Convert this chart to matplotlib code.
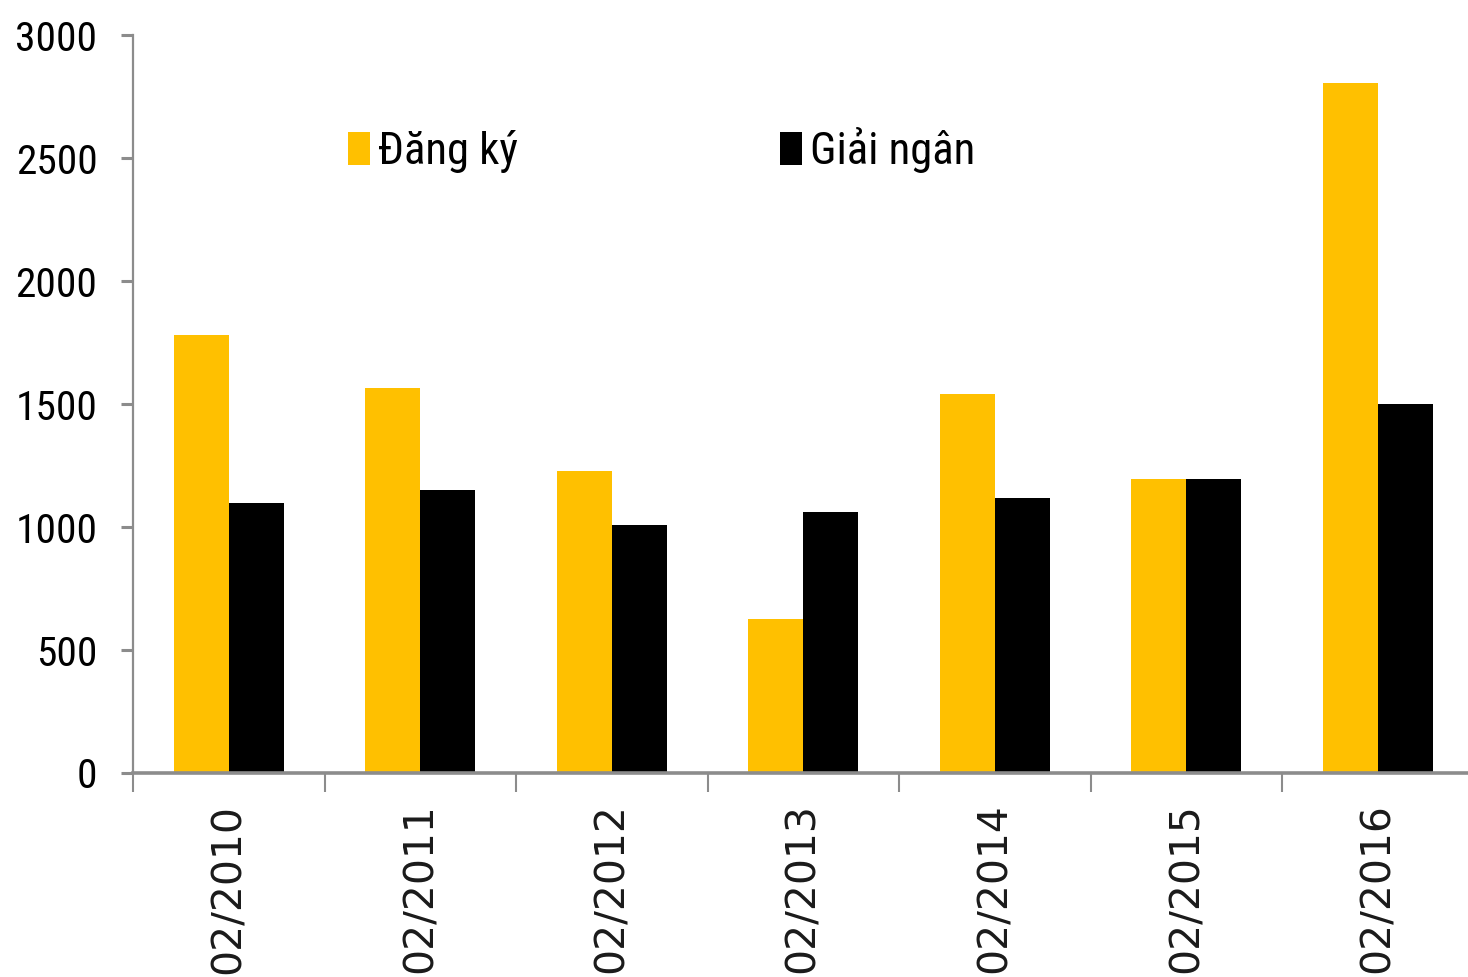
import matplotlib
matplotlib.use('Agg')
import matplotlib.pyplot as plt
from matplotlib import font_manager as fm
from matplotlib.patches import Patch
import numpy as np

# ---- data ----
categories = ['02/2010', '02/2011', '02/2012', '02/2013', '02/2014', '02/2015', '02/2016']
dang_ky = [1780, 1565, 1230, 625, 1540, 1195, 2805]
giai_ngan = [1100, 1150, 1010, 1060, 1120, 1195, 1500]
series_names = ['Đăng ký', 'Giải ngân']
series_colors = ['#FFC000', '#000000']
yticks = [0, 500, 1000, 1500, 2000, 2500, 3000]

W, H, DPI = 1468, 977, 100
fig = plt.figure(figsize=(W / DPI, H / DPI), dpi=DPI)
renderer = fig.canvas.get_renderer()

# pick a narrow font if one is installed
names = {f.name for f in fm.fontManager.ttflist}
narrow = 'DejaVu Sans'
for cand in ['Liberation Sans Narrow', 'Arial Narrow', 'DejaVu Sans Condensed',
             'Roboto Condensed', 'Open Sans Condensed', 'Noto Sans Condensed']:
    if cand in names:
        narrow = cand
        break


def fit_size(text, family, target_px, ref=20.0):
    t = fig.text(0, 0, text, fontsize=ref, family=family)
    w = t.get_window_extent(renderer).width
    t.remove()
    return ref * target_px / w


ytick_fs = fit_size('3000', narrow, 82)
legend_fs = fit_size('Đăng ký', narrow, 140)
xtick_fs = fit_size('02/2010', 'DejaVu Sans', 170)

# axes geometry (pixels)
x0, x_axis_y, top_y, cat_w = 133, 773, 35.5, 191.5
ax = fig.add_axes([x0 / W, 1 - x_axis_y / H, 7 * cat_w / W, (x_axis_y - top_y) / H])

x = np.arange(len(categories))
bw = 55 / cat_w
ax.bar(x - bw / 2, dang_ky, bw, color=series_colors[0], linewidth=0, zorder=2)
ax.bar(x + bw / 2, giai_ngan, bw, color=series_colors[1], linewidth=0, zorder=2)

ax.set_xlim(-0.5, len(categories) - 0.5)
ax.set_ylim(0, 3000)

axis_gray = '#8c8c8c'
for s in ['top', 'right']:
    ax.spines[s].set_visible(False)
ax.spines['left'].set_color(axis_gray)
ax.spines['left'].set_linewidth(1.6)
ax.spines['bottom'].set_color(axis_gray)
ax.spines['bottom'].set_linewidth(2.6)
ax.spines['bottom'].set_zorder(3)

ax.set_yticks(yticks)
ax.set_yticklabels([str(v) for v in yticks], fontsize=ytick_fs, family=narrow, color='black')
ax.tick_params(axis='y', direction='out', length=8.6, width=2.2, color=axis_gray, pad=17)

ax.set_xticks(x)
ax.set_xticklabels(categories, rotation=90, fontsize=xtick_fs, family='DejaVu Sans', color='#1a1a1a')
ax.set_xticks(np.arange(-0.5, len(categories), 1), minor=True)
ax.tick_params(axis='x', which='major', length=0, pad=22)
ax.tick_params(axis='x', which='minor', direction='out', length=13.5, width=1.5, color=axis_gray)

# legend
fs_px = legend_fs * DPI / 72
handles = [Patch(facecolor=c, edgecolor='none') for c in series_colors]
leg = fig.legend(handles, series_names, loc='center left',
                 bbox_to_anchor=(348 / W, 1 - 150 / H), ncol=2, frameon=False,
                 prop={'family': narrow, 'size': legend_fs},
                 handlelength=22 / fs_px, handleheight=33 / fs_px,
                 handletextpad=8 / fs_px, columnspacing=262 / fs_px, borderpad=0,
                 borderaxespad=0)

fig.savefig('out.png', dpi=DPI)
